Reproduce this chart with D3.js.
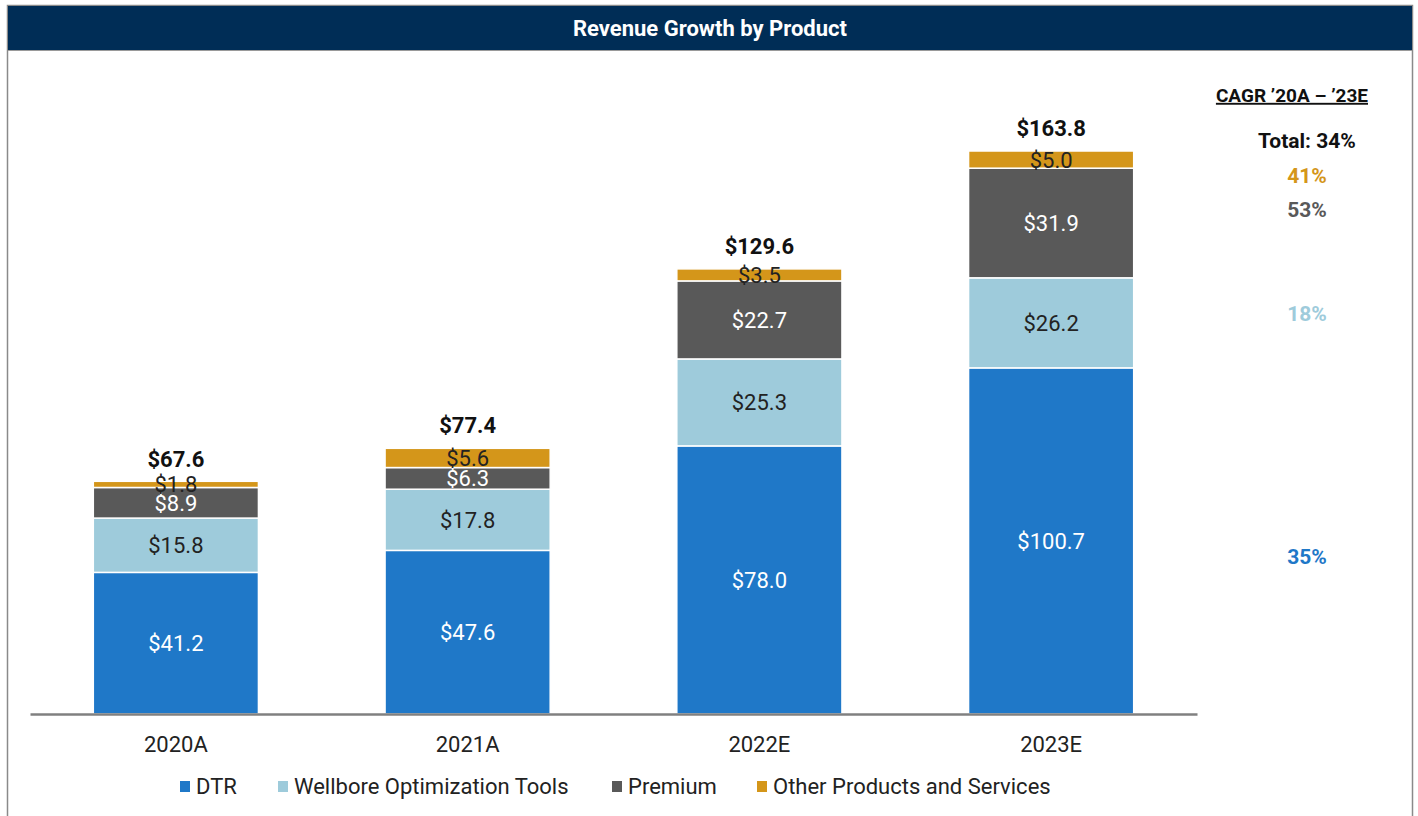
<!DOCTYPE html>
<html>
<head>
<meta charset="utf-8">
<script src="https://cdn.jsdelivr.net/npm/d3@7"></script>
<style>
  html, body { margin: 0; padding: 0; background: #fff; }
  svg { display: block; font-family: Roboto, "Noto Sans", sans-serif; }
</style>
</head>
<body>
<svg id="chart" width="1418" height="816"></svg>
<script>
// Revenue by product, $ millions
const years = ["2020A", "2021A", "2022E", "2023E"];
const seriesNames = ["DTR", "Wellbore Optimization Tools", "Premium", "Other Products and Services"];
const dtr      = [41.2, 47.6, 78.0, 100.7];
const wellbore = [15.8, 17.8, 25.3, 26.2];
const premium  = [8.9, 6.3, 22.7, 31.9];
const other    = [1.8, 5.6, 3.5, 5.0];
const totals   = [67.6, 77.4, 129.6, 163.8];
const cagrTotal = "Total: 34%";
const cagrBySeries = ["35%", "18%", "53%", "41%"];

const colors = ["#1f78c8", "#9ecbdb", "#595959", "#d4961a"];
const labelColors = ["#ffffff", "#222222", "#ffffff", "#222222"];

const svg = d3.select("#chart");

// Frame and header band
svg.append("rect").attr("x", 7.5).attr("y", 5.5).attr("width", 1405).attr("height", 820)
  .attr("fill", "#fff").attr("stroke", "#8a8a8a").attr("stroke-width", 1.5);
svg.append("rect").attr("x", 8).attr("y", 6).attr("width", 1404).attr("height", 44)
  .attr("fill", "#002d56");
svg.append("line").attr("x1", 8).attr("x2", 1412).attr("y1", 50.5).attr("y2", 50.5)
  .attr("stroke", "#9a9a9a").attr("stroke-width", 1);
svg.append("text").attr("x", 710).attr("y", 28).attr("dy", "0.36em").attr("text-anchor", "middle")
  .attr("fill", "#fff").attr("font-weight", 700).attr("font-size", 22)
  .text("Revenue Growth by Product");

// Scales
const x = d3.scaleBand().domain(years).range([30, 1197])
  .paddingInner(0.434).paddingOuter(0.217);
const y = d3.scaleLinear().domain([0, 163.8]).range([714, 151]);

const rows = years.map((yr, i) => ({
  year: yr, DTR: dtr[i], "Wellbore Optimization Tools": wellbore[i],
  Premium: premium[i], "Other Products and Services": other[i]
}));
const stack = d3.stack().keys(seriesNames)(rows);

const g = svg.append("g");
stack.forEach((layer, si) => {
  g.append("g").selectAll("rect").data(layer).join("rect")
    .attr("x", d => x(d.data.year))
    .attr("width", x.bandwidth())
    .attr("y", d => y(d[1]))
    .attr("height", d => y(d[0]) - y(d[1]))
    .attr("fill", colors[si])
    .attr("stroke", "#fff").attr("stroke-width", 1.5);
});

// Segment value labels
stack.forEach((layer, si) => {
  g.append("g").selectAll("text").data(layer).join("text")
    .attr("x", d => x(d.data.year) + x.bandwidth() / 2)
    .attr("y", d => (y(d[0]) + y(d[1])) / 2)
    .attr("dy", "0.36em")
    .attr("text-anchor", "middle")
    .attr("font-size", 22)
    .attr("fill", labelColors[si])
    .text(d => "$" + (d[1] - d[0]).toFixed(1));
});

// Totals above bars
g.append("g").selectAll("text").data(years).join("text")
  .attr("x", d => x(d) + x.bandwidth() / 2)
  .attr("y", (d, i) => y(totals[i]) - 15)
  .attr("text-anchor", "middle")
  .attr("font-size", 22).attr("font-weight", 700).attr("fill", "#111")
  .text((d, i) => "$" + totals[i].toFixed(1));

// Baseline axis
const xAxis = d3.axisBottom(x).tickSize(0).tickPadding(22);
const ax = svg.append("g").attr("transform", `translate(0,${y(0)})`).call(xAxis);
ax.select(".domain").attr("stroke", "#808080").attr("stroke-width", 2.5);
ax.selectAll("text").attr("font-size", 22).attr("fill", "#222")
  .attr("font-family", "Roboto, sans-serif");

// CAGR column
const cx = 1307;
svg.append("text").attr("x", 1368).attr("y", 95).attr("dy", "0.36em").attr("text-anchor", "end")
  .attr("font-size", 19).attr("font-weight", 700).attr("fill", "#111")
  .attr("text-decoration", "underline")
  .text("CAGR \u201920A \u2013 \u201923E");
svg.append("text").attr("x", cx).attr("y", 140).attr("dy", "0.36em").attr("text-anchor", "middle")
  .attr("font-size", 21).attr("font-weight", 700).attr("fill", "#111")
  .text(cagrTotal);
const cagrY = [556, 313, 209, 175];
cagrBySeries.forEach((t, i) => {
  svg.append("text").attr("x", cx).attr("y", cagrY[i]).attr("dy", "0.36em")
    .attr("text-anchor", "middle").attr("font-size", 21).attr("font-weight", 700)
    .attr("fill", i === 1 ? "#9ecbdb" : colors[i])
    .text(t);
});

// Legend
const legendX = [180, 278, 612, 757];
const lgd = svg.append("g");
seriesNames.forEach((name, i) => {
  lgd.append("rect").attr("x", legendX[i]).attr("y", 781).attr("width", 10).attr("height", 11)
    .attr("fill", colors[i]);
  lgd.append("text").attr("x", legendX[i] + 16).attr("y", 786).attr("dy", "0.36em")
    .attr("font-size", 22).attr("fill", "#222").text(name);
});
</script>
</body>
</html>
